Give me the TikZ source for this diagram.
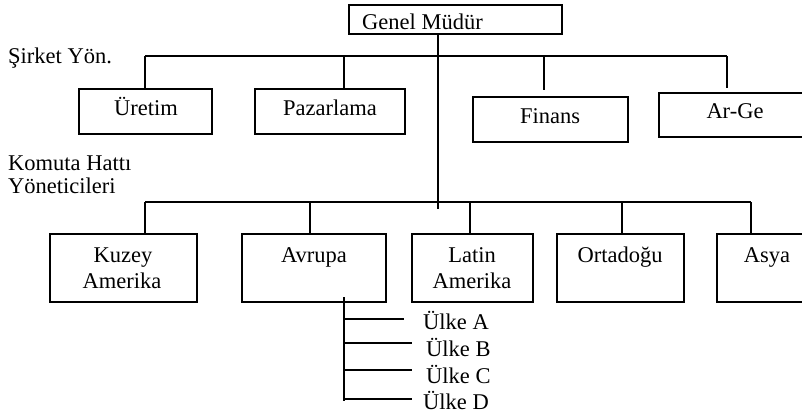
\documentclass[tikz,border=0pt]{standalone}
\usepackage{fontspec}
\setmainfont{Liberation Serif}
\usetikzlibrary{calc}
\begin{document}
\begin{tikzpicture}[x=1pt,y=-1pt,
  font=\fontsize{22.5}{26}\selectfont,
  box/.style={draw, line width=1.3pt, rectangle, inner sep=0pt, outer sep=0pt, anchor=north west},
  lbl/.style={inner sep=0pt, anchor=base},
  lbll/.style={inner sep=0pt, anchor=base west},
  wire/.style={line width=1.3pt}]
\useasboundingbox (0,0) rectangle (802,418);

% top management
\node[box, minimum width=213pt, minimum height=29pt] (genel) at (349,5) {};
\node[lbll] (genelT) at (362,29) {Genel Müdür};

% side captions
\node[lbll] (sirket) at (8,63) {Şirket Yön.};
\node[lbll] (komuta) at (8,170) {Komuta Hattı};
\node[lbll] (yonet) at (8,193) {Yöneticileri};

% corporate departments
\node[box, minimum width=133pt, minimum height=45pt] (uretim) at (79,89) {};
\node[box, minimum width=150pt, minimum height=45pt] (pazar) at (255,89) {};
\node[box, minimum width=155pt, minimum height=45pt] (finans) at (473,97) {};
\node[box, minimum width=152pt, minimum height=44pt] (arge) at (659,93) {};
\node[lbl] (uretimT) at (146,115) {Üretim};
\node[lbl] (pazarT) at (330,115) {Pazarlama};
\node[lbl] (finansT) at (550,123) {Finans};
\node[lbl] (argeT) at (735,118) {Ar-Ge};

% regional line managers
\node[box, minimum width=147pt, minimum height=68pt] (kuzey) at (50,234) {};
\node[box, minimum width=144pt, minimum height=68pt] (avrupa) at (242,234) {};
\node[box, minimum width=121pt, minimum height=68pt] (latin) at (412,234) {};
\node[box, minimum width=127pt, minimum height=68pt] (orta) at (557,234) {};
\node[box, minimum width=100pt, minimum height=68pt] (asya) at (717,234) {};
\node[lbl] (kuzeyT1) at (123,262) {Kuzey};
\node[lbl] (kuzeyT2) at (122,288) {Amerika};
\node[lbl] (avrupaT) at (314,262) {Avrupa};
\node[lbl] (latinT1) at (472,262) {Latin};
\node[lbl] (latinT2) at (472,288) {Amerika};
\node[lbl] (ortaT) at (620,262) {Ortadoğu};
\node[lbl] (asyaT) at (767,262) {Asya};

% countries under Avrupa
\node[lbll] (ulkeA) at (423,329) {Ülke A};
\node[lbll] (ulkeB) at (426,356) {Ülke B};
\node[lbll] (ulkeC) at (426,383) {Ülke C};
\node[lbll] (ulkeD) at (423,409) {Ülke D};

% main trunk
\coordinate (trunkend) at (438,209);
\draw[wire] (genel.south -| trunkend) -- (trunkend);

% first bus
\coordinate (b1a) at (145,56);
\coordinate (b1b) at (344,56);
\coordinate (b1c) at (544,56);
\coordinate (b1d) at (727,56);
\draw[wire] (b1a) -- (b1d);
\draw[wire] (b1a) -- (b1a |- uretim.north);
\draw[wire] (b1b) -- (b1b |- pazar.north);
\draw[wire] (b1c) -- ($(b1c |- finans.north)+(0,-7)$);
\draw[wire] (b1d) -- ($(b1d |- arge.north)+(0,-5)$);

% second bus
\coordinate (b2a) at (145,202);
\coordinate (b2b) at (310,202);
\coordinate (b2c) at (470,202);
\coordinate (b2d) at (622,202);
\coordinate (b2e) at (751,202);
\draw[wire] (b2a) -- (b2e);
\draw[wire] (b2a) -- (b2a |- kuzey.north);
\draw[wire] (b2b) -- (b2b |- avrupa.north);
\draw[wire] (b2c) -- (b2c |- latin.north);
\draw[wire] (b2d) -- (b2d |- orta.north);
\draw[wire] (b2e) -- (b2e |- asya.north);

% Avrupa branch
\coordinate (vtop) at (344,297);
\coordinate (vbot) at (344,401);
\draw[wire] (vtop) -- (vbot);
\coordinate (eA) at (404,319);
\coordinate (eB) at (412,343);
\coordinate (eC) at (412,370);
\coordinate (eD) at (412,399);
\draw[wire] (vtop |- eA) -- (eA);
\draw[wire] (vtop |- eB) -- (eB);
\draw[wire] (vtop |- eC) -- (eC);
\draw[wire] (vtop |- eD) -- (eD);
\end{tikzpicture}
\end{document}
